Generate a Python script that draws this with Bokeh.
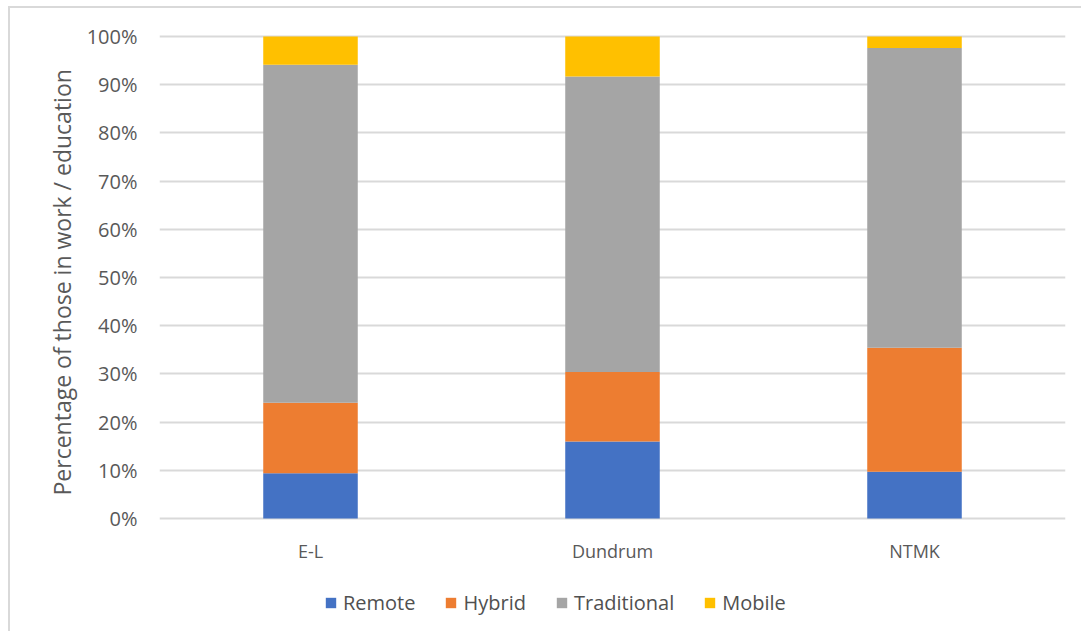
from bokeh.plotting import figure
from bokeh.models import (FactorRange, Range1d, FixedTicker, NumeralTickFormatter,
                          Legend, LegendItem, Title, ColumnDataSource)
from bokeh.core.properties import value
from bokeh.embed import file_html
from bokeh.resources import INLINE

# Share (0-1) of those in work / education by working arrangement
areas = ["E-L", "Dundrum", "NTMK"]
remote = [0.094, 0.160, 0.097]
hybrid = [0.146, 0.144, 0.257]
traditional = [0.701, 0.613, 0.622]
mobile = [0.059, 0.083, 0.024]

series = ["Remote", "Hybrid", "Traditional", "Mobile"]
colors = ["#4472C4", "#ED7D31", "#A5A5A5", "#FFC000"]
y_ticks = [i / 10 for i in range(11)]

FONT = "Open Sans"
TEXT = "#595959"
LABEL_Y = -0.068  # category labels sit just under the 0% line

source = ColumnDataSource(dict(area=areas, Remote=remote, Hybrid=hybrid,
                               Traditional=traditional, Mobile=mobile,
                               label_y=[LABEL_Y] * len(areas)))

# the frame reaches down to the legend row so that labels and legend share it
p = figure(
    x_range=FactorRange(*areas, range_padding=0),
    y_range=Range1d(-0.2343, 1.004),
    frame_width=906, frame_height=597,
    min_border_left=149, min_border_right=16,
    min_border_top=26, min_border_bottom=0,
    output_backend="svg", toolbar_location=None,
    background_fill_color="white", border_fill_color="white",
)
p.outline_line_color = None
# chart area sits inside a thin light border
p.margin = (6, 0, 0, 8)
p.styles = {"border-left": "2px solid #d9d9d9", "border-top": "2px solid #d9d9d9"}

renderers = p.vbar_stack(series, x="area", width=0.313, color=colors,
                         line_color=None, source=source)

# category labels
p.text(x="area", y="label_y", text="area", source=source,
       text_font=value(FONT), text_font_size="18px", text_color=TEXT,
       text_align="center", text_baseline="middle")
p.xaxis.visible = False

# grid
p.xgrid.grid_line_color = None
p.ygrid.grid_line_color = "#d9d9d9"
p.ygrid.grid_line_width = 2

# y axis
p.yaxis.ticker = FixedTicker(ticks=y_ticks)
p.yaxis.formatter = NumeralTickFormatter(format="0%")
p.yaxis.axis_line_color = None
p.yaxis.major_tick_line_color = None
p.yaxis.minor_tick_line_color = None
p.yaxis.major_tick_out = 0
p.yaxis.major_label_standoff = 22
p.yaxis.major_label_text_font = FONT
p.yaxis.major_label_text_font_size = "20px"
p.yaxis.major_label_text_color = TEXT

# y axis title, lifted to run alongside the 0-100% span
p.add_layout(Title(text="Percentage of those in work / education", align="left",
                   offset=136, standoff=12, text_font=FONT, text_font_size="23px",
                   text_font_style="normal", text_color=TEXT), "left")

# legend row
legend = Legend(
    items=[LegendItem(label=s, renderers=[r]) for s, r in zip(series, renderers)],
    orientation="horizontal", location=(165, 15),
    glyph_width=13, glyph_height=13, label_standoff=6, spacing=29,
    label_text_font=FONT, label_text_font_size="20px", label_text_color="#505050",
    border_line_color=None, background_fill_alpha=0, padding=4, margin=0,
)
p.add_layout(legend, "center")

open("out.html", "w").write(file_html(p, INLINE))
